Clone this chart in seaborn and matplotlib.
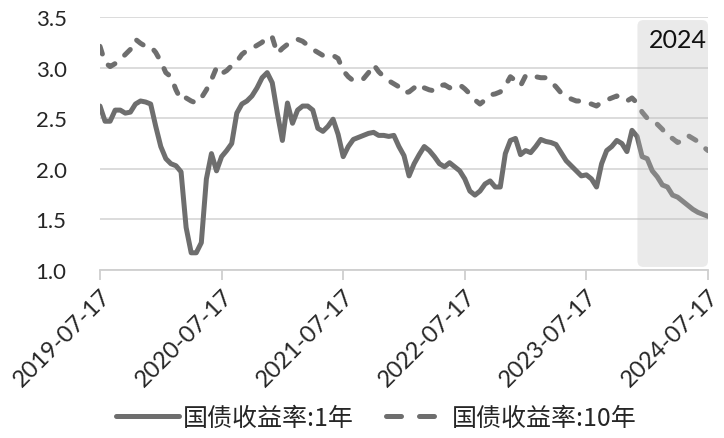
import pandas as pd
import seaborn as sns
import matplotlib.pyplot as plt
import matplotlib.dates as mdates
from matplotlib.lines import Line2D
from matplotlib.patches import FancyBboxPatch

# ----------------- data (half-monthly readings from the picture)

dates = pd.date_range("2019-07-17", "2024-07-17", periods=121)

yield_1y = [
    2.62, 2.47, 2.47, 2.58, 2.58, 2.55, 2.56, 2.64, 2.67, 2.66,
    2.64, 2.42, 2.22, 2.10, 2.05, 2.03, 1.97, 1.42, 1.17, 1.17,
    1.27, 1.90, 2.15, 1.98, 2.12, 2.18, 2.25, 2.55, 2.64, 2.67,
    2.72, 2.80, 2.90, 2.95, 2.85, 2.55, 2.28, 2.65, 2.45, 2.58,
    2.62, 2.62, 2.58, 2.40, 2.37, 2.42, 2.49, 2.34, 2.12, 2.22,
    2.29, 2.31, 2.33, 2.35, 2.36, 2.33, 2.33, 2.32, 2.33, 2.22,
    2.13, 1.93, 2.05, 2.14, 2.22, 2.18, 2.12, 2.05, 2.02, 2.06,
    2.02, 1.98, 1.90, 1.78, 1.74, 1.78, 1.85, 1.88, 1.82, 1.82,
    2.15, 2.28, 2.30, 2.14, 2.18, 2.16, 2.22, 2.29, 2.27, 2.26,
    2.24, 2.16, 2.08, 2.03, 1.98, 1.93, 1.94, 1.90, 1.82, 2.05,
    2.18, 2.22, 2.28, 2.25, 2.17, 2.38, 2.32, 2.12, 2.10, 1.98,
    1.92, 1.84, 1.82, 1.74, 1.72, 1.68, 1.64, 1.60, 1.57, 1.55,
    1.53,
]

yield_10y = [
    3.21, 3.05, 3.01, 3.04, 3.08, 3.13, 3.18, 3.28, 3.24, 3.21,
    3.21, 3.15, 3.06, 2.95, 2.91, 2.78, 2.68, 2.70, 2.67, 2.65,
    2.70, 2.78, 2.88, 3.00, 2.94, 2.97, 3.02, 3.06, 3.13, 3.17,
    3.19, 3.22, 3.25, 3.31, 3.30, 3.14, 3.19, 3.23, 3.26, 3.28,
    3.26, 3.22, 3.18, 3.15, 3.12, 3.11, 3.12, 3.09, 2.97, 2.91,
    2.87, 2.88, 2.89, 2.95, 3.03, 2.96, 2.91, 2.87, 2.84, 2.81,
    2.75, 2.76, 2.80, 2.84, 2.80, 2.78, 2.77, 2.82, 2.83, 2.80,
    2.82, 2.83, 2.79, 2.74, 2.68, 2.64, 2.68, 2.73, 2.74, 2.76,
    2.82, 2.91, 2.87, 2.82, 2.92, 2.93, 2.91, 2.90, 2.90, 2.86,
    2.81, 2.75, 2.72, 2.69, 2.67, 2.67, 2.65, 2.64, 2.62, 2.66,
    2.68, 2.70, 2.72, 2.68, 2.67, 2.70, 2.65, 2.56, 2.50, 2.45,
    2.44, 2.39, 2.32, 2.30, 2.26, 2.28, 2.33, 2.30, 2.27, 2.22,
    2.18,
]

series_names = ["国债收益率:1年", "国债收益率:10年"]
tick_dates = ["2019-07-17", "2020-07-17", "2021-07-17",
              "2022-07-17", "2023-07-17", "2024-07-17"]
y_ticks = [1.0, 1.5, 2.0, 2.5, 3.0, 3.5]
shade_start, shade_end = "2023-12-18", "2024-07-17"
shade_label = "2024"

df = pd.DataFrame({"date": dates, "y1": yield_1y, "y10": yield_10y})

# ----------------- plot

sns.set_theme(style="white")
plt.rcParams["font.family"] = ["Lato", "Noto Sans CJK SC", "DejaVu Sans"]

line_color = "#6e6e6e"
grid_color = "#d9d9d9"
text_color = "#262626"
lw = 3.6

fig = plt.figure(figsize=(7.24, 4.39), dpi=100)
ax = fig.add_axes([0.1381, 0.3827, 0.8398, 0.5763])

sns.lineplot(data=df, x="date", y="y1", ax=ax, color=line_color,
             linewidth=lw, legend=False)
sns.lineplot(data=df, x="date", y="y10", ax=ax, color=line_color,
             linewidth=lw, legend=False)

solid, dashed = ax.get_lines()[:2]
solid.set_solid_capstyle("round")
solid.set_solid_joinstyle("round")
dashed.set_linestyle((0, (1.6, 2.6)))
dashed.set_dash_capstyle("round")
dashed.set_dash_joinstyle("round")

ax.set_ylim(1.0, 3.5)
ax.set_xlim(pd.Timestamp(tick_dates[0]), pd.Timestamp(tick_dates[-1]))
ax.set_yticks(y_ticks)
ax.set_yticklabels([f"{v:.1f}" for v in y_ticks])
ax.set_xticks(pd.to_datetime(tick_dates))
ax.set_xticklabels(tick_dates, rotation=45, ha="right",
                   rotation_mode="anchor")
ax.set_xlabel("")
ax.set_ylabel("")

ax.yaxis.grid(True, color=grid_color, linewidth=1.3)
ax.xaxis.grid(False)
for side in ["top", "right", "left"]:
    ax.spines[side].set_visible(False)
ax.spines["bottom"].set_color("#cfcfcf")
ax.spines["bottom"].set_linewidth(1.3)
ax.tick_params(axis="x", which="major", bottom=True, length=7, width=1.3,
               color="#cfcfcf", labelsize=17, labelcolor=text_color, pad=4)
ax.tick_params(axis="y", length=0, labelsize=16, labelcolor=text_color,
               pad=24)

# shaded 2024 box, drawn over the lines
x0 = mdates.date2num(pd.Timestamp(shade_start))
x1 = mdates.date2num(pd.Timestamp(shade_end))
box = FancyBboxPatch((x0, 1.03), x1 - x0, 2.44,
                     boxstyle="round,pad=0,rounding_size=18",
                     mutation_aspect=0.0033,
                     facecolor="#bcbcbc", edgecolor="none", alpha=0.3,
                     zorder=5, clip_on=False)
ax.add_patch(box)
ax.text(x1 - 3, 3.28, shade_label, ha="right", va="center", fontsize=18,
        color="#111111", zorder=6)

handles = [
    Line2D([], [], color=line_color, linewidth=lw, solid_capstyle="round"),
    Line2D([], [], color=line_color, linewidth=lw, linestyle=(0, (3.0, 3.6)),
           dash_capstyle="round"),
]
fig.legend(handles, series_names, loc="center", bbox_to_anchor=(0.52, 0.045),
           ncol=2, frameon=False, handlelength=2.5,
           handletextpad=0.15, columnspacing=1.3,
           prop={"family": ["Noto Sans CJK SC", "DejaVu Sans"], "size": 18})

fig.savefig("out.png", dpi=100)
